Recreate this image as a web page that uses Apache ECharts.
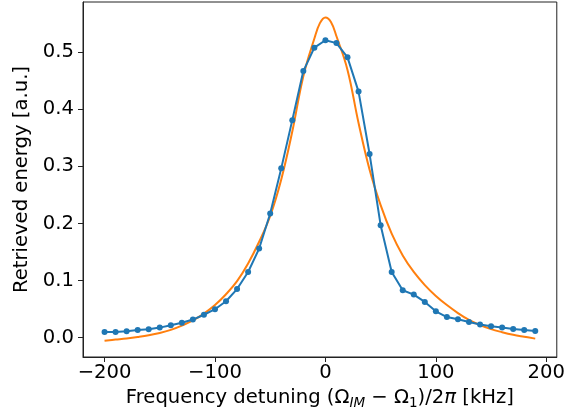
<!DOCTYPE html>
<html>
<head>
<meta charset="utf-8">
<script src="https://cdn.jsdelivr.net/npm/echarts@6/dist/echarts.min.js"></script>
<style>html,body{margin:0;padding:0;background:#fff;}#c{width:568px;height:419px;}</style>
</head>
<body>
<div id="c"></div>
<script>
// measured data (blue)
const measX = [-200,-190,-180,-170,-160,-150,-140,-130,-120,-110,-100,-90,-80,-70,-60,-50,-40,-30,-20,-10,0,10,20,30,40,50,60,70,80,90,100,110,120,130,140,150,160,170,180,190];
const measY = [0.0098,0.0100,0.0110,0.0133,0.0145,0.0175,0.0216,0.0260,0.0316,0.0400,0.0497,0.0637,0.0850,0.1150,0.1560,0.2175,0.2965,0.3810,0.4670,0.5080,0.5210,0.5160,0.4910,0.4310,0.3216,0.1970,0.1150,0.0830,0.0754,0.0625,0.0460,0.0360,0.0320,0.0274,0.0228,0.0198,0.0175,0.0151,0.0133,0.0116];
// fitted curve (orange)
const fitX = [-200,-190,-180,-170,-160,-150,-140,-130,-120,-110,-100,-90,-80,-70,-60,-50,-40,-30,-20,-10,-5,0,5,10,20,30,40,50,60,70,80,90,100,110,120,130,140,150,160,170,180,190];
const fitY = [-0.0055,-0.0035,-0.0015,0.001,0.004,0.008,0.0135,0.021,0.030,0.042,0.057,0.076,0.099,0.130,0.168,0.213,0.277,0.361,0.458,0.524,0.551,0.561,0.553,0.528,0.469,0.376,0.294,0.232,0.182,0.144,0.115,0.092,0.073,0.057,0.043,0.031,0.022,0.0148,0.0095,0.005,0.0015,-0.0018];
const xTicks = [-200,-100,0,100,200];
const yTicks = [0,0.1,0.2,0.3,0.4,0.5];

const chart = echarts.init(document.getElementById('c'));
const font = 'DejaVu Sans';
const fs = 19.6;
chart.setOption({
  animation:false,
  backgroundColor:'#fff',
  grid:{left:83,right:9,top:2,bottom:62,show:true,borderColor:'#222',borderWidth:1,backgroundColor:'transparent'},
  xAxis:{type:'value',min:-219.5,max:209.5,
    name:'Frequency detuning (Ω{sub|IM} − Ω{sub1|1})/2{it|π} [kHz]',
    nameLocation:'middle',nameGap:29,
    nameTextStyle:{fontFamily:font,fontSize:fs,color:'#000',
      rich:{sub:{fontFamily:font,fontSize:13.5,fontStyle:'italic',color:'#000',padding:[10,0,0,0]},
            sub1:{fontFamily:font,fontSize:13.5,color:'#000',padding:[10,0,0,0]},
            it:{fontFamily:font,fontSize:fs,fontStyle:'italic',color:'#000'}}},
    axisLine:{show:true,onZero:false,lineStyle:{color:'#222',width:1}},
    axisTick:{show:true,inside:false,length:5,customValues:xTicks,lineStyle:{color:'#222',width:1}},
    axisLabel:{customValues:xTicks,margin:6,fontFamily:font,fontSize:fs,color:'#000',
      formatter:v=>(v<0?'−'+Math.abs(v):String(v))},
    splitLine:{show:false}},
  yAxis:{type:'value',min:-0.034,max:0.588,
    name:'Retrieved energy [a.u.]',nameLocation:'middle',nameGap:49,
    nameTextStyle:{fontFamily:font,fontSize:fs,color:'#000'},
    axisLine:{show:true,onZero:false,lineStyle:{color:'#222',width:1}},
    axisTick:{show:true,inside:false,length:5,customValues:yTicks,lineStyle:{color:'#222',width:1}},
    axisLabel:{customValues:yTicks,margin:9,fontFamily:font,fontSize:fs,color:'#000',
      formatter:v=>v.toFixed(1)},
    splitLine:{show:false}},
  series:[
    {type:'line',data:measX.map((x,i)=>[x,measY[i]]),color:'#1f77b4',
      lineStyle:{color:'#1f77b4',width:2},symbol:'circle',symbolSize:6,showSymbol:true,
      itemStyle:{color:'#1f77b4'},z:3},
    {type:'line',data:fitX.map((x,i)=>[x,fitY[i]]),color:'#ff7f0e',smooth:0.4,
      lineStyle:{color:'#ff7f0e',width:2},symbol:'none',z:2}
  ]
});
</script>
</body>
</html>
